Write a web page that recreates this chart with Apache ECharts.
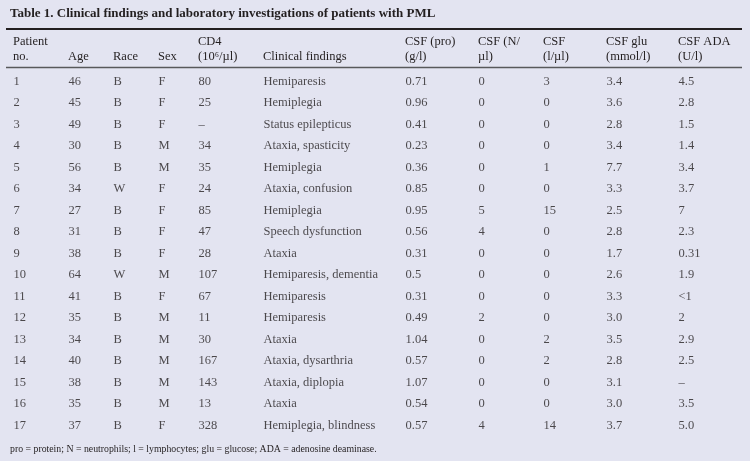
<!DOCTYPE html>
<html>
<head>
<meta charset="utf-8">
<script src="https://cdn.jsdelivr.net/npm/echarts@6/dist/echarts.min.js"></script>
<style>
html,body{margin:0;padding:0;background:#e3e4f1;}
#c{width:750px;height:461px;}
</style>
</head>
<body>
<div id="c"></div>
<script>
const titleText = 'Table 1. Clinical findings and laboratory investigations of patients with PML';
const footnote = 'pro = protein; N = neutrophils; l = lymphocytes; glu = glucose; ADA = adenosine deaminase.';
const headerLine1 = ['Patient', '', '', '', 'CD4', '', 'CSF (pro)', 'CSF (N/', 'CSF', 'CSF glu', 'CSF ADA'];
const headerLine2 = ['no.', 'Age', 'Race', 'Sex', '(10\u2076/\u00b5l)', 'Clinical findings', '(g/l)', '\u00b5l)', '(l/\u00b5l)', '(mmol/l)', '(U/l)'];

const patientNo = ['1','2','3','4','5','6','7','8','9','10','11','12','13','14','15','16','17'];
const age = ['46','45','49','30','56','34','27','31','38','64','41','35','34','40','38','35','37'];
const race = ['B','B','B','B','B','W','B','B','B','W','B','B','B','B','B','B','B'];
const sex = ['F','F','F','M','M','F','F','F','F','M','F','M','M','M','M','M','F'];
const cd4 = ['80','25','\u2013','34','35','24','85','47','28','107','67','11','30','167','143','13','328'];
const clinical = ['Hemiparesis','Hemiplegia','Status epilepticus','Ataxia, spasticity','Hemiplegia','Ataxia, confusion','Hemiplegia','Speech dysfunction','Ataxia','Hemiparesis, dementia','Hemiparesis','Hemiparesis','Ataxia','Ataxia, dysarthria','Ataxia, diplopia','Ataxia','Hemiplegia, blindness'];
const csfPro = ['0.71','0.96','0.41','0.23','0.36','0.85','0.95','0.56','0.31','0.5','0.31','0.49','1.04','0.57','1.07','0.54','0.57'];
const csfN = ['0','0','0','0','0','0','5','4','0','0','0','2','0','0','0','0','4'];
const csfL = ['3','0','0','0','1','0','15','0','0','0','0','0','2','2','0','0','14'];
const csfGlu = ['3.4','3.6','2.8','3.4','7.7','3.3','2.5','2.8','1.7','2.6','3.3','3.0','3.5','2.8','3.1','3.0','3.7'];
const csfAda = ['4.5','2.8','1.5','1.4','3.4','3.7','7','2.3','0.31','1.9','<1','2','2.9','2.5','\u2013','3.5','5.0'];

const columns = [patientNo, age, race, sex, cd4, clinical, csfPro, csfN, csfL, csfGlu, csfAda];
// layout: left x of each column (px)
const colX = [13, 68, 113, 158, 198, 263, 405, 478, 543, 606, 678];

const FONT = 'Liberation Serif';
const INK = '#231f20';

const chart = echarts.init(document.getElementById('c'), null, {renderer: 'canvas'});

const series = columns.map((col, c) => ({
  type: 'scatter',
  symbol: 'circle',
  symbolSize: 1,
  itemStyle: {color: 'rgba(0,0,0,0)'},
  silent: true,
  data: col.map((v, i) => ({value: [colX[c], patientNo[i]], label: {formatter: v}})),
  label: {
    show: true,
    position: 'right',
    distance: 0,
    fontFamily: FONT,
    fontSize: 12.5,
    color: INK
  }
}));

const graphics = [];
headerLine1.forEach((t, c) => {
  if (t) graphics.push({type: 'text', left: colX[c], top: 35, style: {text: t, font: '12.5px "' + FONT + '"', fill: INK}});
});
headerLine2.forEach((t, c) => {
  if (t) graphics.push({type: 'text', left: colX[c], top: 50.5, style: {text: t, font: '12.5px "' + FONT + '"', fill: INK}});
});
graphics.push({type: 'line', shape: {x1: 6, y1: 29, x2: 742, y2: 29}, style: {stroke: INK, lineWidth: 2}});
graphics.push({type: 'line', shape: {x1: 6, y1: 67.5, x2: 742, y2: 67.5}, style: {stroke: '#58595b', lineWidth: 1.3}});
graphics.push({type: 'text', left: 10, top: 444, style: {text: footnote, font: '9.8px "' + FONT + '"', fill: INK}});

chart.setOption({
  backgroundColor: '#e3e4f1',
  animation: false,
  title: {
    text: titleText,
    left: 10,
    top: 7,
    padding: 0,
    textStyle: {fontFamily: FONT, fontWeight: 'bold', fontSize: 13, color: INK}
  },
  grid: {left: 0, right: 0, top: 70.5, bottom: 25},
  xAxis: {type: 'value', min: 0, max: 750, show: false},
  yAxis: {type: 'category', data: patientNo, inverse: true, show: false},
  graphic: graphics,
  series: series
});
</script>
</body>
</html>
